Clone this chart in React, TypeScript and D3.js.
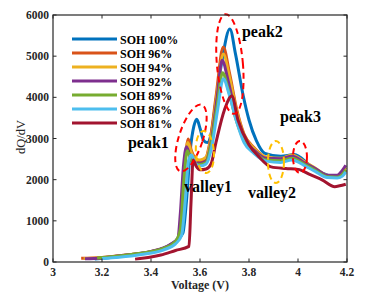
import * as d3 from "d3";

const W = 377;
const H = 301;

const soh100: [number, number][] = [
  [3.17, 70], [3.25, 120], [3.35, 200], [3.45, 330], [3.5, 500], [3.53, 700], [3.545, 1500], [3.56, 2700],
  [3.575, 3300], [3.587, 3470], [3.6, 3250], [3.615, 2950], [3.63, 2900], [3.645, 3100], [3.665, 3900],
  [3.69, 4900], [3.722, 5660], [3.745, 5050], [3.776, 4050], [3.8, 3450], [3.83, 2950], [3.865, 2640],
  [3.93, 2570], [3.985, 2610], [4.05, 2340], [4.1, 2160], [4.15, 2070], [4.175, 2090], [4.19, 2190],
];
const soh96: [number, number][] = [
  [3.115, 90], [3.2, 110], [3.3, 170], [3.4, 250], [3.48, 420], [3.515, 600], [3.527, 1200], [3.538, 2300],
  [3.552, 2990], [3.565, 2700], [3.58, 2520], [3.6, 2450], [3.62, 2480], [3.64, 2900], [3.665, 4000],
  [3.695, 5220], [3.72, 4600], [3.75, 3700], [3.78, 3100], [3.82, 2780], [3.87, 2540], [3.93, 2500],
  [3.975, 2580], [4.03, 2400], [4.07, 2260], [4.12, 2080], [4.16, 2050], [4.18, 2110], [4.195, 2230],
];
const soh94: [number, number][] = [
  [3.125, 85], [3.2, 105], [3.3, 168], [3.4, 248], [3.48, 415], [3.513, 590], [3.525, 1200], [3.537, 2300],
  [3.55, 2900], [3.565, 2650], [3.58, 2500], [3.6, 2480], [3.625, 2550], [3.645, 3000], [3.67, 4100],
  [3.695, 5050], [3.72, 4500], [3.75, 3650], [3.78, 3080], [3.82, 2760], [3.87, 2550], [3.93, 2520],
  [3.975, 2600], [4.03, 2420], [4.07, 2280], [4.12, 2100], [4.16, 2070], [4.18, 2160], [4.195, 2300],
];
const soh92: [number, number][] = [
  [3.13, 80], [3.2, 100], [3.3, 170], [3.4, 255], [3.48, 430], [3.51, 580], [3.52, 1200], [3.532, 2300],
  [3.545, 2800], [3.56, 2550], [3.575, 2420], [3.6, 2400], [3.625, 2450], [3.645, 2900], [3.67, 4000],
  [3.69, 4900], [3.715, 4400], [3.745, 3600], [3.78, 3000], [3.82, 2720], [3.87, 2520], [3.93, 2510],
  [3.975, 2570], [4.03, 2400], [4.07, 2270], [4.12, 2110], [4.16, 2110], [4.18, 2220], [4.195, 2350],
];
const soh89: [number, number][] = [
  [3.18, 100], [3.25, 135], [3.35, 205], [3.45, 330], [3.5, 500], [3.52, 800], [3.533, 1900], [3.548, 2700],
  [3.562, 2500], [3.58, 2380], [3.6, 2370], [3.625, 2420], [3.645, 2850], [3.67, 3800], [3.692, 4600],
  [3.715, 4200], [3.745, 3500], [3.78, 2950], [3.82, 2680], [3.87, 2480], [3.93, 2460], [3.975, 2520],
  [4.03, 2360], [4.07, 2230], [4.12, 2070], [4.16, 2060], [4.18, 2120], [4.195, 2240],
];
const soh86: [number, number][] = [
  [3.2, 85], [3.27, 115], [3.36, 180], [3.45, 290], [3.5, 440], [3.525, 650], [3.54, 1500], [3.553, 2450],
  [3.565, 2600], [3.58, 2400], [3.6, 2330], [3.625, 2380], [3.648, 2800], [3.672, 3700], [3.695, 4450],
  [3.72, 4050], [3.75, 3400], [3.78, 2900], [3.82, 2640], [3.87, 2450], [3.93, 2420], [3.975, 2480],
  [4.03, 2330], [4.07, 2200], [4.12, 2050], [4.16, 2040], [4.18, 2080], [4.195, 2190],
];
const soh81: [number, number][] = [
  [3.335, 70], [3.4, 120], [3.44, 170], [3.5, 280], [3.555, 380], [3.563, 1400], [3.572, 2480], [3.585, 2320],
  [3.6, 2240], [3.625, 2260], [3.645, 2380], [3.665, 2900], [3.7, 3700], [3.73, 4030], [3.755, 3450],
  [3.8, 2850], [3.84, 2560], [3.89, 2310], [3.95, 2270], [4.0, 2250], [4.05, 2120], [4.1, 1990],
  [4.15, 1830], [4.17, 1850], [4.195, 1890],
];

const seriesNames = ["SOH 100%", "SOH 96%", "SOH 94%", "SOH 92%", "SOH 89%", "SOH 86%", "SOH 81%"];
const seriesData = [soh100, soh96, soh94, soh92, soh89, soh86, soh81];
const colors = ["#0072BD", "#D95319", "#EDB120", "#7E2F8E", "#77AC30", "#4DBEEE", "#A2142F"];

const xTicks = [3, 3.2, 3.4, 3.6, 3.8, 4, 4.2];
const yTicks = [0, 1000, 2000, 3000, 4000, 5000, 6000];

// dashed ellipses: [V, dQ/dV, rx px, ry px, rotate, colour]
const marks: [number, number, number, number, number, string][] = [
  [3.563, 3012, 12, 35, 18, "#FF0000"],
  [3.722, 4810, 13, 50, -5, "#FF0000"],
  [4.008, 2551, 7, 16, 0, "#FF0000"],
  [3.62, 2672, 9, 21, -4, "#FFC000"],
  [3.91, 2429, 8, 21, 0, "#FFC000"],
];
const labelText = ["peak1", "peak2", "peak3", "valley1", "valley2"];
const labelPos: [number, number][] = [[3.306, 2769], [3.771, 5466], [3.927, 3401], [3.535, 1700], [3.796, 1555]];

export default function App() {
  const left = 53, right = 347, top = 15, bottom = 262;
  const x = d3.scaleLinear().domain([3, 4.2]).range([left, right]);
  const y = d3.scaleLinear().domain([0, 6000]).range([bottom, top]);
  const line = d3
    .line<[number, number]>()
    .x((d) => x(d[0]))
    .y((d) => y(d[1]))
    .curve(d3.curveMonotoneX);
  const axisColor = "#262626";
  const font = "'Liberation Serif', 'Times New Roman', serif";

  return (
    <svg width={W} height={H} style={{ position: "absolute", left: 0, top: 0, background: "#fff" }} fontFamily={font}>
      {seriesData.map((s, i) => (
        <path key={seriesNames[i]} d={line(s) ?? ""} fill="none" stroke={colors[i]} strokeWidth={3} strokeLinejoin="round" />
      ))}

      {marks.map((m, i) => (
        <ellipse
          key={i}
          cx={0}
          cy={0}
          rx={m[2]}
          ry={m[3]}
          transform={`translate(${x(m[0])},${y(m[1])}) rotate(${m[4]})`}
          fill="none"
          stroke={m[5]}
          strokeWidth={2}
          strokeDasharray="6 4"
        />
      ))}

      {labelText.map((t, i) => (
        <text key={t} x={x(labelPos[i][0])} y={y(labelPos[i][1])} fontSize={16} fontWeight="bold" fill="#000">
          {t}
        </text>
      ))}

      {/* legend */}
      {seriesNames.map((n, i) => (
        <g key={n} transform={`translate(0,${39 + i * 14})`}>
          <line x1={72} x2={117} y1={0} y2={0} stroke={colors[i]} strokeWidth={3} />
          <text x={120} y={4.5} fontSize={12} fontWeight="bold" fill="#000">
            {n}
          </text>
        </g>
      ))}

      {/* axes box */}
      <rect x={left} y={top} width={right - left} height={bottom - top} fill="none" stroke={axisColor} strokeWidth={1.2} />
      {xTicks.map((t) => (
        <g key={t}>
          <line x1={x(t)} x2={x(t)} y1={bottom} y2={bottom - 3.5} stroke={axisColor} />
          <line x1={x(t)} x2={x(t)} y1={top} y2={top + 3.5} stroke={axisColor} />
          <text x={x(t)} y={276} textAnchor="middle" fontSize={11.5} fontWeight="bold" fill={axisColor}>
            {t}
          </text>
        </g>
      ))}
      {yTicks.map((t) => (
        <g key={t}>
          <line x1={left} x2={left + 3.5} y1={y(t)} y2={y(t)} stroke={axisColor} />
          <line x1={right} x2={right - 3.5} y1={y(t)} y2={y(t)} stroke={axisColor} />
          <text x={49} y={y(t) + 4} textAnchor="end" fontSize={11.5} fontWeight="bold" fill={axisColor}>
            {t}
          </text>
        </g>
      ))}
      <text x={200} y={289} textAnchor="middle" fontSize={12} fontWeight="bold" fill={axisColor}>
        Voltage (V)
      </text>
      <text transform="translate(25,137) rotate(-90)" textAnchor="middle" fontSize={12.5} fill={axisColor}>
        dQ/dV
      </text>
    </svg>
  );
}
